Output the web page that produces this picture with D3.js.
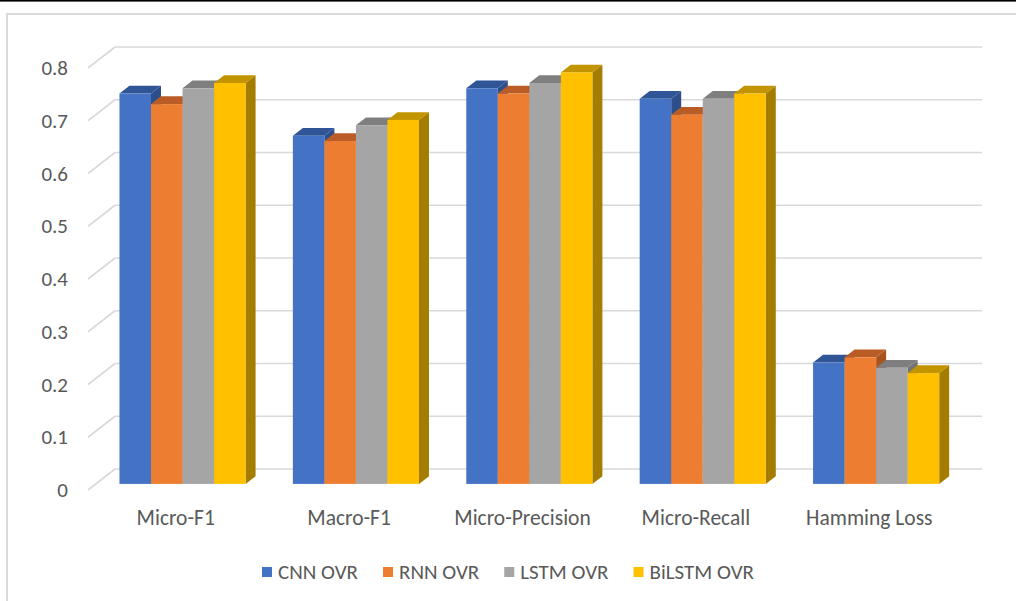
<!DOCTYPE html>
<html>
<head>
<meta charset="utf-8">
<script src="https://cdn.jsdelivr.net/npm/d3@7"></script>
<style>
  html, body { margin: 0; padding: 0; background: #ffffff; }
  svg { display: block; }
  text { font-family: Carlito, Calibri, Lato, "Liberation Sans", sans-serif; fill: #595959; }
</style>
</head>
<body>
<svg id="chart" width="1016" height="601"></svg>
<script>
// Evaluation metrics per model
const categories = ["Micro-F1", "Macro-F1", "Micro-Precision", "Micro-Recall", "Hamming Loss"];
const seriesNames = ["CNN OVR", "RNN OVR", "LSTM OVR", "BiLSTM OVR"];
const cnnOvr    = [0.74, 0.66, 0.75, 0.73, 0.23];
const rnnOvr    = [0.72, 0.65, 0.74, 0.70, 0.24];
const lstmOvr   = [0.75, 0.68, 0.76, 0.73, 0.22];
const bilstmOvr = [0.76, 0.69, 0.78, 0.74, 0.21];
const tickValues = [0, 0.1, 0.2, 0.3, 0.4, 0.5, 0.6, 0.7, 0.8];

const seriesValues = [cnnOvr, rnnOvr, lstmOvr, bilstmOvr];

// face colours: front, top, side
const palette = [
  { front: "#4472C4", top: "#2F5597", side: "#2C4F8C" },
  { front: "#ED7D31", top: "#B95C25", side: "#A9541F" },
  { front: "#A5A5A5", top: "#7F7F7F", side: "#747474" },
  { front: "#FFC000", top: "#C29400", side: "#A47C00" }
];

const svg = d3.select("#chart");

// page frame
svg.append("rect").attr("x", 0).attr("y", 0).attr("width", 1016).attr("height", 1.6).attr("fill", "#000");
svg.append("rect").attr("x", 7).attr("y", 14).attr("width", 1030).attr("height", 620)
  .attr("fill", "none").attr("stroke", "#D9D9D9").attr("stroke-width", 2);

// 3D projection: full floor depth vector
const depthX = 27, depthY = -21;
const frontLeft = 88, frontRight = 955;

const y = d3.scaleLinear().domain([0, 0.8]).range([490, 68]);
const x0 = d3.scaleBand().domain(categories).range([frontLeft, frontRight]).paddingInner(0).paddingOuter(0);

// back wall gridlines with diagonal side-wall segments
const grid = svg.append("g").attr("stroke", "#D9D9D9").attr("stroke-width", 1.6).attr("fill", "none");
tickValues.forEach(t => {
  const yf = y(t), yb = y(t) + depthY;
  grid.append("line").attr("x1", frontLeft + depthX).attr("y1", yb).attr("x2", frontRight + depthX).attr("y2", yb);
  grid.append("line").attr("x1", frontLeft).attr("y1", yf).attr("x2", frontLeft + depthX).attr("y2", yb);
});

// value axis labels
const yAxis = svg.append("g");
tickValues.forEach(t => {
  yAxis.append("text")
    .attr("x", 68).attr("y", y(t))
    .attr("text-anchor", "end").attr("dominant-baseline", "central")
    .attr("font-size", 21)
    .text(d3.format("")(t));
});

// bars sit part-way into the floor depth
const barPlane = 0.29, barDepth = 0.37;
const px = depthX * barPlane, py = depthY * barPlane;
const ddx = depthX * barDepth, ddy = depthY * barDepth;

const groupPad = x0.bandwidth() * 1.5 / 5.5 / 2;
const x1 = d3.scaleBand().domain(seriesNames).range([groupPad, x0.bandwidth() - groupPad]);

const bars = svg.append("g");
categories.forEach((cat, ci) => {
  seriesNames.forEach((s, si) => {
    const v = seriesValues[si][ci];
    const xl = x0(cat) + x1(s) + px;
    const xr = xl + x1.bandwidth();
    const yt = y(v) + py;
    const yb = y(0) + py;
    const c = palette[si];
    const g = bars.append("g");
    g.append("polygon")
      .attr("points", [[xr, yt], [xr + ddx, yt + ddy], [xr + ddx, yb + ddy], [xr, yb]].map(p => p.join(",")).join(" "))
      .attr("fill", c.side);
    g.append("polygon")
      .attr("points", [[xl, yt], [xr, yt], [xr + ddx, yt + ddy], [xl + ddx, yt + ddy]].map(p => p.join(",")).join(" "))
      .attr("fill", c.top);
    g.append("rect")
      .attr("x", xl).attr("y", yt).attr("width", xr - xl).attr("height", yb - yt)
      .attr("fill", c.front);
  });
});

// category labels
const xAxis = svg.append("g");
categories.forEach(cat => {
  xAxis.append("text")
    .attr("x", x0(cat) + x0.bandwidth() / 2 + 1)
    .attr("y", 518)
    .attr("text-anchor", "middle").attr("dominant-baseline", "central")
    .attr("font-size", 21.5)
    .text(cat);
});

// legend
const legend = svg.append("g");
const items = seriesNames.map((s, i) => {
  const g = legend.append("g");
  g.append("rect").attr("x", 0).attr("y", -5).attr("width", 10).attr("height", 10).attr("fill", palette[i].front);
  const t = g.append("text").attr("x", 16).attr("y", 0).attr("dominant-baseline", "central")
    .attr("font-size", 21).text(s);
  return { g, w: 16 + t.node().getComputedTextLength() };
});
const itemGap = 25;
const total = d3.sum(items, d => d.w) + itemGap * (items.length - 1);
let cx = 508 - total / 2;
items.forEach(it => {
  it.g.attr("transform", `translate(${cx},572)`);
  cx += it.w + itemGap;
});
</script>
</body>
</html>
